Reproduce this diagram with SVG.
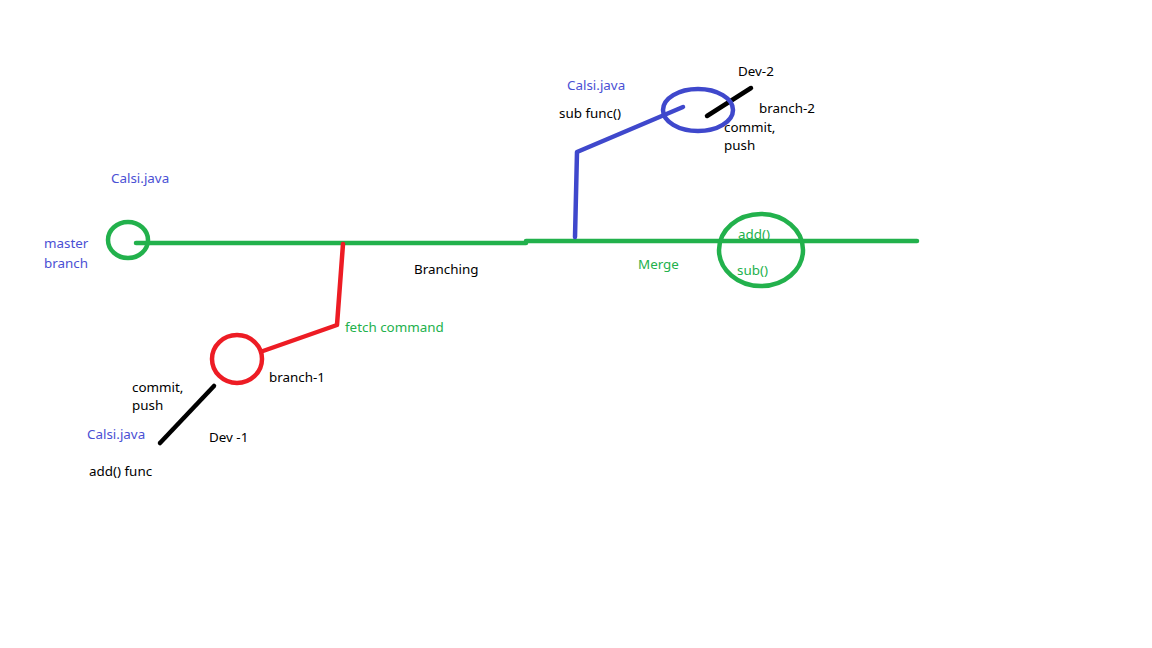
<svg xmlns="http://www.w3.org/2000/svg" width="1152" height="648" viewBox="0 0 1152 648">
<style>
text{font-family:"Noto Sans","DejaVu Sans",sans-serif;font-size:13.4px;fill:#000}
.b{fill:#4a50d4}
.g{fill:#22b14c}
.ln{fill:none;stroke-width:4.5;stroke-linecap:round;stroke-linejoin:round}
</style>
<rect width="1152" height="648" fill="#fff"/>
<g id="connectors">
<polyline class="ln" stroke="#22b14c" points="136,243 526,243"/>
<polyline class="ln" stroke="#22b14c" points="526,241 917,241"/>
<polyline class="ln" stroke="#ed1c24" points="343,244 337,325 263,351"/>
<polyline class="ln" stroke="#3f48cc" points="575,237 577,152 683,107"/>
<line class="ln" stroke="#000" x1="214" y1="386" x2="160" y2="443"/>
<line class="ln" stroke="#000" x1="707" y1="116" x2="751" y2="88"/>
</g>
<g id="master">
<ellipse class="ln" stroke="#22b14c" cx="128" cy="240" rx="20" ry="18"/>
<text class="b" x="111" y="183">Calsi.java</text>
<text class="b" x="44" y="248">master</text>
<text class="b" x="44" y="268">branch</text>
</g>
<g id="branching"><text x="414" y="274">Branching</text></g>
<g id="branch1">
<ellipse class="ln" stroke="#ed1c24" cx="237" cy="359" rx="25" ry="24"/>
<text class="g" x="345" y="332">fetch command</text>
<text x="269" y="382">branch-1</text>
</g>
<g id="dev1">
<text x="132" y="392">commit,</text>
<text x="132" y="410">push</text>
<text class="b" x="87" y="439">Calsi.java</text>
<text x="209" y="442">Dev -1</text>
<text x="89" y="476">add() func</text>
</g>
<g id="branch2">
<ellipse class="ln" stroke="#3f48cc" cx="698" cy="110" rx="35" ry="21"/>
<text class="b" x="567" y="90">Calsi.java</text>
<text x="559" y="118">sub func()</text>
<text x="759" y="113">branch-2</text>
</g>
<g id="dev2">
<text x="738" y="76">Dev-2</text>
<text x="724" y="132">commit,</text>
<text x="724" y="150">push</text>
</g>
<g id="merge">
<ellipse class="ln" stroke="#22b14c" cx="761" cy="250" rx="42" ry="36"/>
<text class="g" x="638" y="269">Merge</text>
<text class="g" x="738" y="239">add()</text>
<text class="g" x="737" y="275">sub()</text>
</g>
</svg>
